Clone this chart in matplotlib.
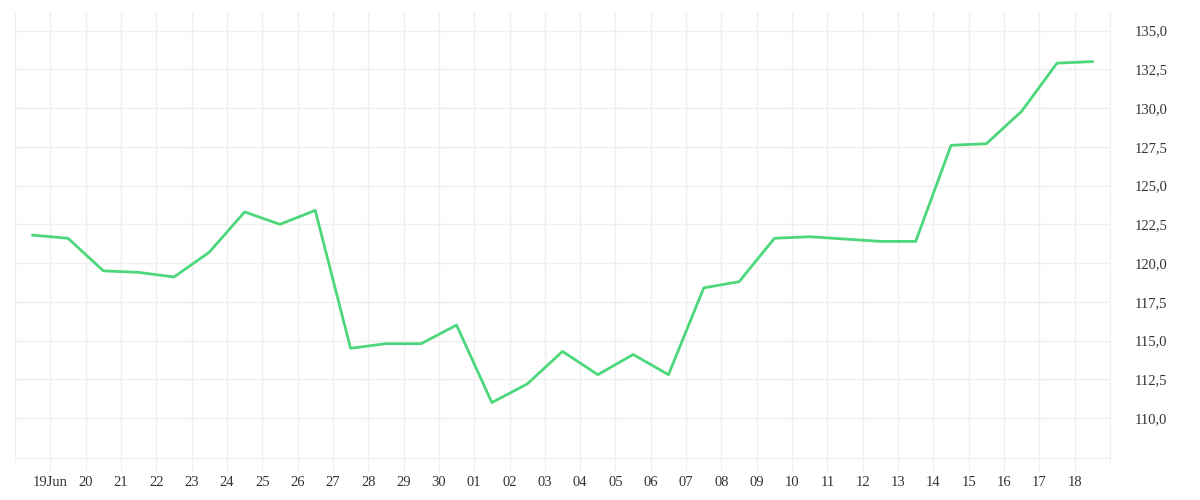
import matplotlib
matplotlib.use("Agg")
import matplotlib.pyplot as plt
import numpy as np

tick_labels = ["19Jun","20","21","22","23","24","25","26","27","28","29","30",
               "01","02","03","04","05","06","07","08","09","10","11","12","13","14","15","16","17","18"]
values = [121.8,121.6,119.5,119.4,119.1,120.7,123.3,122.5,123.4,114.5,114.8,114.8,116.0,
          111.0,112.2,114.3,112.8,114.1,112.8,118.4,118.8,121.6,121.7,121.55,121.4,121.4,
          127.6,127.7,129.8,132.9,133.0]
y_ticks = [110.0,112.5,115.0,117.5,120.0,122.5,125.0,127.5,130.0,132.5,135.0]

plt.rcParams['font.family'] = ['Liberation Serif', 'DejaVu Serif']
fig = plt.figure(figsize=(12,5), dpi=100)
ax = fig.add_axes([15/1200, 37/500, 1095/1200, 451/500])
x = np.arange(len(values)) - 0.5
ax.plot(x, values, color='#4cd87a', lw=2)
ax.set_xlim(-1.0, 30.0)
ax.set_ylim(107.1, 136.2)
ax.set_xticks(np.arange(len(tick_labels)))
ax.set_xticklabels(tick_labels)
ax.set_yticks(y_ticks)
ax.set_yticklabels([f"{v:.1f}".replace('.', ',') for v in y_ticks])
ax.yaxis.tick_right()
gc = '#efefef'
for v in y_ticks + [107.4]:
    ax.axhline(v, color=gc, lw=1, zorder=0)
for t in list(range(len(tick_labels))) + [-1.0]:
    ax.axvline(t, color=gc, lw=1, zorder=0)
for s in ['top','left','bottom']:
    ax.spines[s].set_visible(False)
ax.spines['right'].set_color(gc)
ax.tick_params(axis='x', length=6, color=gc, labelsize=10.5, labelcolor='#333333', pad=3)
ax.tick_params(axis='y', length=0, labelsize=10.5, labelcolor='#333333', pad=18)
fig.savefig("out.png")
